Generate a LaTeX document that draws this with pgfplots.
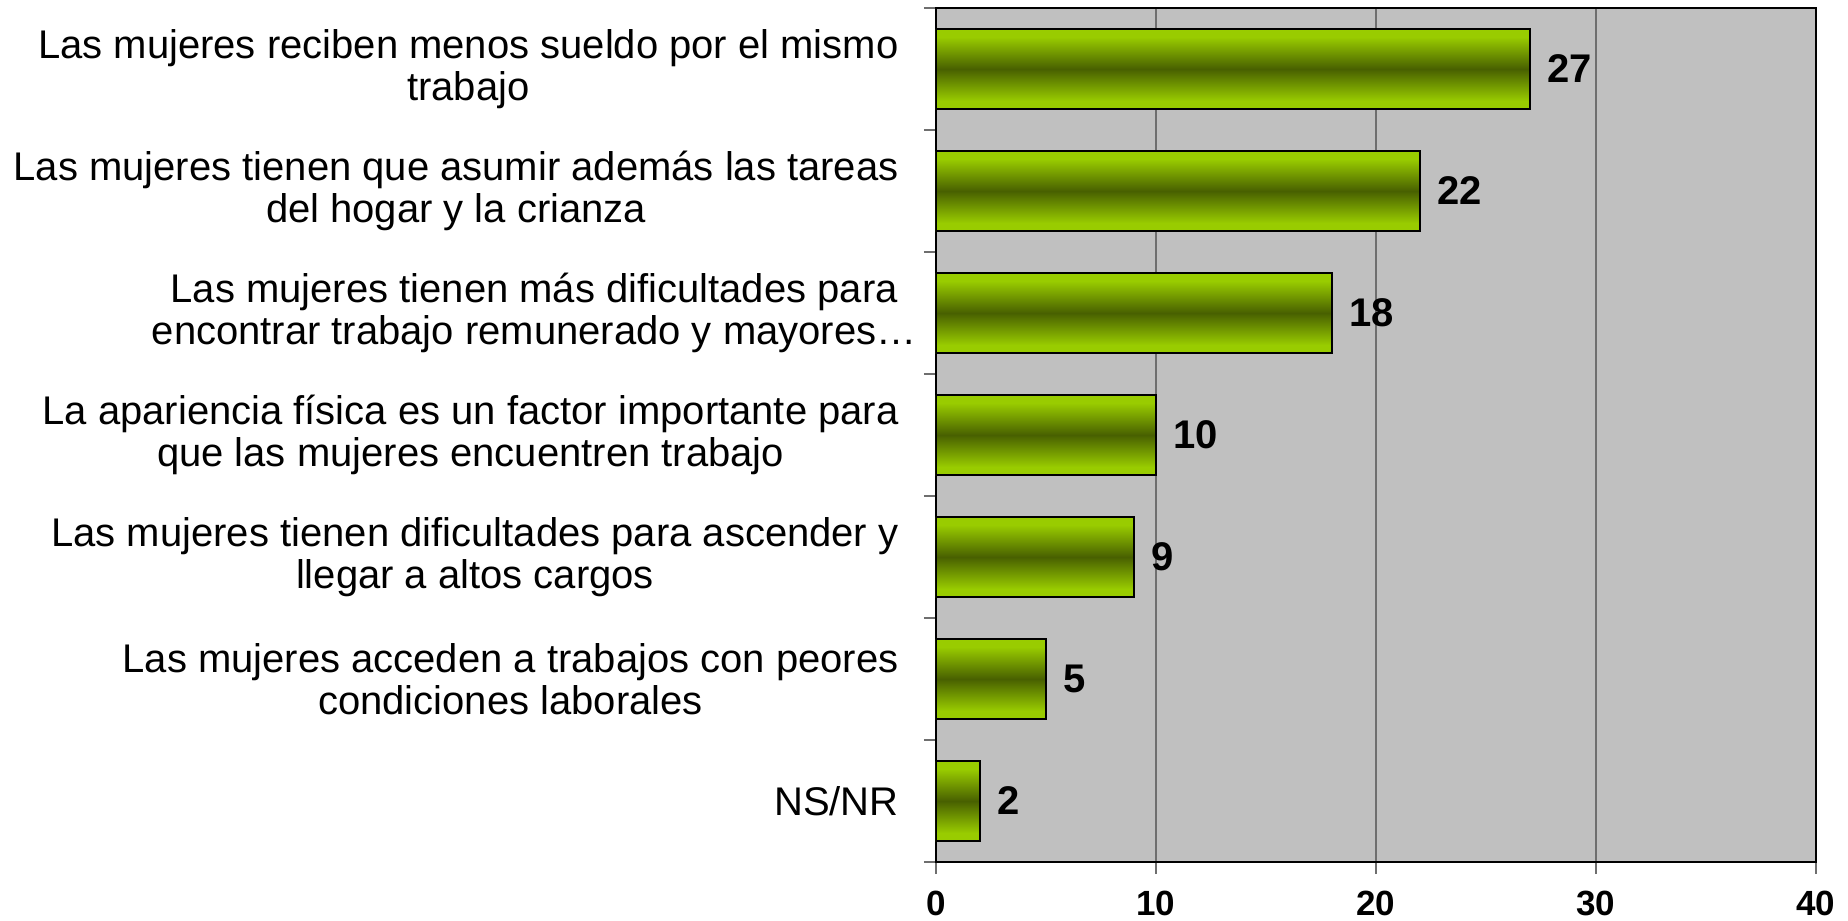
\documentclass[border=0pt]{standalone}
\usepackage{fontspec}
\setmainfont{Liberation Sans}
\usepackage{pgfplots}
\pgfplotsset{compat=1.18}
\definecolor{bggray}{RGB}{192,192,192}
\definecolor{lgreen}{RGB}{153,204,0}
\definecolor{dgreen}{RGB}{72,96,0}
\definecolor{gridgray}{RGB}{110,110,110}
\pgfdeclareverticalshading{barshade}{100bp}{color(0bp)=(lgreen); color(30bp)=(lgreen); color(50bp)=(dgreen); color(70bp)=(lgreen); color(100bp)=(lgreen)}
\pgfplotsset{
  greenbar/.style={xbar, forget plot, bar shift=0pt, draw=black, line width=1.3bp,
    shading=barshade,
    nodes near coords,
    nodes near coords style={font=\bfseries\fontsize{20bp}{20bp}\selectfont, text=black, anchor=west, inner sep=0pt, xshift=8bp}},
}
\begin{document}
\begin{tikzpicture}
\begin{axis}[
  scale only axis, width=440bp, height=427bp,
  xmin=0, xmax=40, ymin=-0.5, ymax=6.5, y dir=reverse,
  axis background/.style={fill=bggray},
  axis line style={black, line width=1.3bp},
  xtick={0,10,20,30,40},
  xmajorgrids, grid style={gridgray, line width=0.6bp},
  tick align=outside, major tick length=6bp, tick pos=left,
  tick style={gridgray, line width=0.6bp},
  xticklabel style={font=\bfseries\fontsize{17.5bp}{17.5bp}\selectfont, anchor=north, inner sep=0pt, yshift=-8.5bp},
  /pgf/number format/assume math mode=true,
  ytick={-0.5,0.5,1.5,2.5,3.5,4.5,5.5,6.5},
  yticklabels={,,,,,,,},
  extra y ticks={0,1,2,3,4,5,6},
  extra y tick style={major tick length=0pt, tick style={draw=none}},
  extra y tick labels={
    Las mujeres reciben menos sueldo por el mismo\\trabajo,
    Las mujeres tienen que asumir además las tareas\\del hogar y la crianza,
    Las mujeres tienen más dificultades para\kern-9bp\\encontrar trabajo remunerado y mayores…\kern-9bp,
    La apariencia física es un factor importante para\\que las mujeres encuentren trabajo,
    Las mujeres tienen dificultades para ascender y\\llegar a altos cargos,
    Las mujeres acceden a trabajos con peores\\condiciones laborales,
    NS/NR},
  yticklabel style={font=\fontsize{20bp}{21bp}\selectfont, align=center, anchor=east, inner sep=0pt, xshift=-18.5bp},
  bar width=40bp,
]
\addplot[greenbar] coordinates {(27,0)};
\addplot[greenbar] coordinates {(22,1)};
\addplot[greenbar] coordinates {(18,2)};
\addplot[greenbar] coordinates {(10,3)};
\addplot[greenbar] coordinates {(9,4)};
\addplot[greenbar] coordinates {(5,5)};
\addplot[greenbar] coordinates {(2,6)};
\end{axis}
\pgfresetboundingbox
\path[use as bounding box] (current axis.south west) ++(-468bp,-29.5bp) rectangle ++(924bp,460.5bp);
\end{tikzpicture}
\end{document}
